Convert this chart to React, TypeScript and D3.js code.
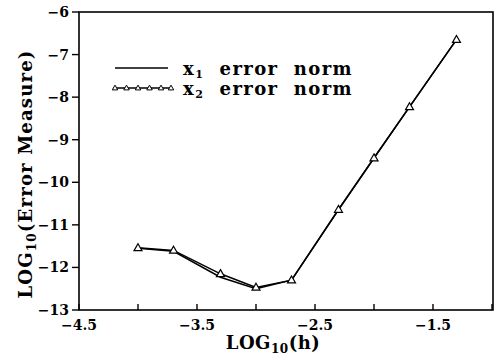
import React from "react";
import * as d3 from "d3";

const logH = [-4, -3.699, -3.301, -3, -2.699, -2.301, -2, -1.699, -1.301];
const x1Err = [-11.55, -11.62, -12.23, -12.5, -12.3, -10.65, -9.43, -8.23, -6.65];
const x2Err = [-11.54, -11.6, -12.15, -12.47, -12.3, -10.64, -9.43, -8.23, -6.65];
const xTicks = [-4.5, -4, -3.5, -3, -2.5, -2, -1.5, -1];
const xTickLabels = [-4.5, -3.5, -2.5, -1.5];
const yTicks = [-13, -12, -11, -10, -9, -8, -7, -6];

const FONT = "'DejaVu Serif', serif";

function tri(cx: number, cy: number, s: number) {
  const h = s * 0.866;
  return `M${cx},${cy - h * 0.6}L${cx + s / 2},${cy + h * 0.4}L${cx - s / 2},${cy + h * 0.4}Z`;
}

const fmt = (v: number) => (v < 0 ? "\u2212" + Math.abs(v) : String(v));

export default function App() {
  const L = 79, R = 493, T = 12, B = 310;
  const x = d3.scaleLinear().domain([-4.5, -1]).range([L, R - 1]);
  const y = d3.scaleLinear().domain([-13, -6]).range([B, T]);
  const line = d3.line<number>().x((_, i) => x(logH[i])).y((d) => y(d));

  return (
    <svg width={496} height={357} style={{ position: "absolute", left: 0, top: 0, background: "#fff" }}>
      <rect x={L} y={T} width={R - L} height={B - T} fill="none" stroke="#000" strokeWidth={1.6} />
      {xTicks.map((t) => (
        <line key={t} x1={x(t)} x2={x(t)} y1={B} y2={B - 6} stroke="#000" strokeWidth={1.4} />
      ))}
      {xTickLabels.map((t) => (
        <text key={t} x={x(t)} y={330} textAnchor="middle" fontFamily={FONT} fontWeight="bold" fontSize={14}>
          {fmt(t)}
        </text>
      ))}
      {yTicks.map((t) => (
        <g key={t}>
          <line x1={L - 7} x2={L} y1={y(t)} y2={y(t)} stroke="#000" strokeWidth={1.4} />
          <text x={69} y={y(t) + 5} textAnchor="end" fontFamily={FONT} fontWeight="bold" fontSize={14}>
            {fmt(t)}
          </text>
        </g>
      ))}
      <text x={273} y={349} textAnchor="middle" fontFamily={FONT} fontWeight="bold" fontSize={18} letterSpacing={0.5}>
        LOG<tspan fontSize={12} dy={4}>10</tspan><tspan dy={-4}>(h)</tspan>
      </text>
      <text
        transform={`translate(32,${174}) rotate(-90)`}
        textAnchor="middle"
        fontFamily={FONT}
        fontWeight="bold"
        fontSize={18}
        letterSpacing={1.2}
        style={{ whiteSpace: "pre" }}
      >
        LOG<tspan fontSize={12} dy={4}>10</tspan><tspan dy={-4}>{"(Error Measure)"}</tspan>
      </text>
      <path d={line(x1Err) || ""} fill="none" stroke="#000" strokeWidth={1.5} />
      <path d={line(x2Err) || ""} fill="none" stroke="#000" strokeWidth={1.5} />
      {x2Err.map((v, i) => (
        <path key={i} d={tri(x(logH[i]), y(v), 8)} fill="#fff" stroke="#000" strokeWidth={1.2} />
      ))}
      {/* legend */}
      <line x1={115} x2={168} y1={68} y2={68} stroke="#000" strokeWidth={1.4} />
      <line x1={113} x2={172} y1={88} y2={88} stroke="#000" strokeWidth={1.4} />
      {[115, 126.5, 138, 149.5, 161, 171].map((cx) => (
        <path key={cx} d={tri(cx, 88, 5.5)} fill="#fff" stroke="#000" strokeWidth={1} />
      ))}
      <text x={183} y={75} fontFamily={FONT} fontWeight="bold" fontSize={18} letterSpacing={1.4} style={{ whiteSpace: "pre" }}>
        x<tspan fontSize={11} dy={3}>1</tspan><tspan dy={-3}>{"  error  norm"}</tspan>
      </text>
      <text x={183} y={95} fontFamily={FONT} fontWeight="bold" fontSize={18} letterSpacing={1.4} style={{ whiteSpace: "pre" }}>
        x<tspan fontSize={11} dy={3}>2</tspan><tspan dy={-3}>{"  error  norm"}</tspan>
      </text>
    </svg>
  );
}
